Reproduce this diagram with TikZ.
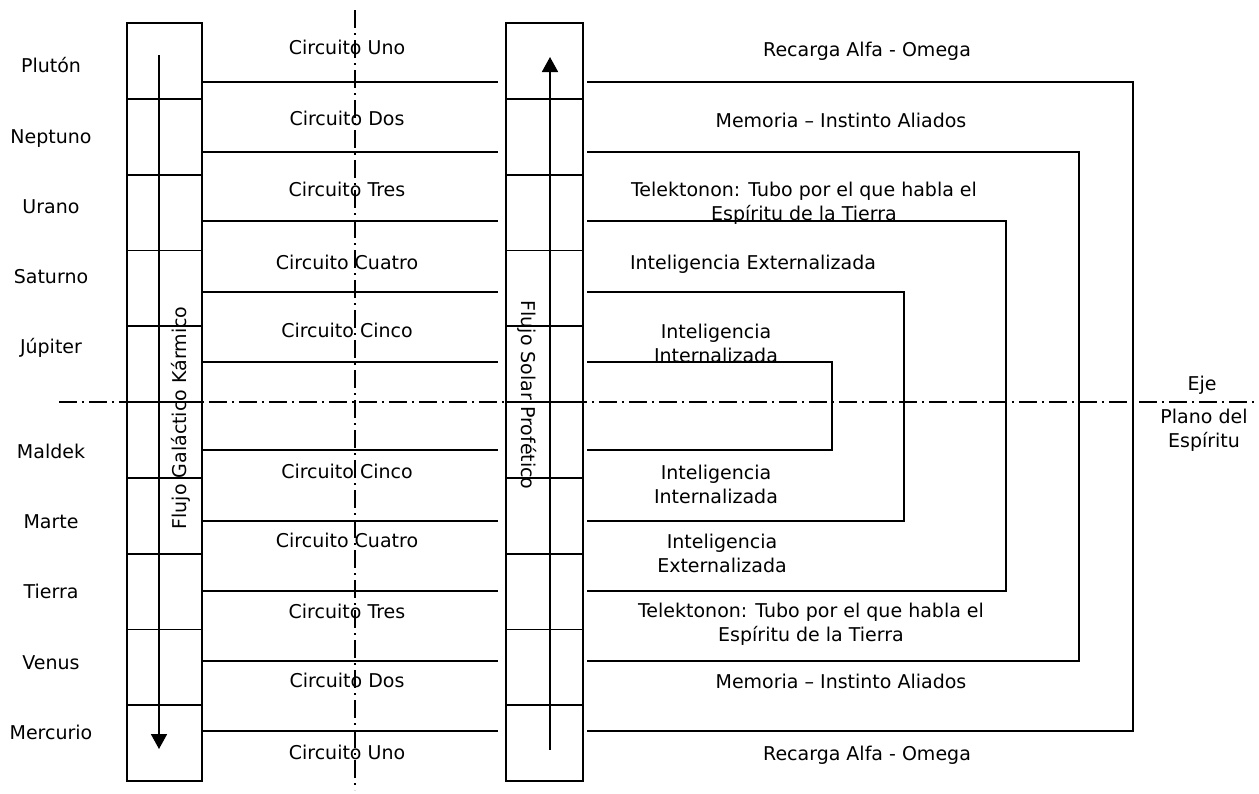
\documentclass[tikz,border=0pt]{standalone}
\usepackage{fontspec}
\setmainfont{DejaVu Sans}
\usetikzlibrary{arrows.meta}

\tikzset{
  linea/.style={line width=0.9pt},
  eje/.style={line width=0.8pt, dash pattern=on 9pt off 2.5pt on 1pt off 2.5pt},
  flecha/.style={linea, -{Triangle[width=8pt,length=7.5pt]}},
  lbl/.style={font=\fontsize{9.5}{12}\selectfont, inner sep=0pt, text height=7pt, text depth=0pt},
  par/.style={font=\fontsize{9.5}{12}\selectfont, inner sep=0pt, align=center}
}

\begin{document}
\begin{tikzpicture}[x=0.5pt,y=-0.5pt]
  \useasboundingbox (0,0) rectangle (1259,793);

  \draw[linea] (127,23) rectangle (202,781);
  \draw[linea] (506,23) rectangle (583,781);
  \foreach \k in {1,...,9} {
    \draw[linea] (127,{23+\k*75.8}) -- (202,{23+\k*75.8});
    \draw[linea] (506,{23+\k*75.8}) -- (583,{23+\k*75.8});
  }

  \foreach \ya/\yb/\xb in {82/731/1133, 152/661/1079, 221/591/1006, 292/521/904, 362/450/832} {
    \draw[linea] (202,\ya) -- (498,\ya);
    \draw[linea] (202,\yb) -- (498,\yb);
    \draw[linea] (587,\ya) -| (\xb,\yb) -- (587,\yb);
  }

  \draw[flecha] (159,55) -- (159,749);
  \draw[flecha] (550,750) -- (550,57);

  \draw[eje] (355,10) -- (355,790);
  \draw[eje] (59,402) -- (1259,402);

  \foreach \nombre/\yy [count=\i] in {Plutón/65, Neptuno/136, Urano/206, Saturno/276, Júpiter/346,
      Maldek/451, Marte/521, Tierra/591, Venus/662, Mercurio/732}
    \node[lbl] (planeta\i) at (51,\yy) {\nombre};

  \foreach \nombre/\yy [count=\i] in {Uno/47, Dos/118, Tres/189, Cuatro/262, Cinco/330,
      Cinco/471, Cuatro/540, Tres/611, Dos/680, Uno/752}
    \node[lbl] (circuito\i) at (347,\yy) {Circuito \nombre};

  \node[lbl] (recarga1) at (867,49) {Recarga Alfa - Omega};
  \node[lbl] (memoria1) at (841,120) {Memoria – Instinto Aliados};
  \node[par] (tele1) at (804,203) {Telektonon: Tubo por el que habla el\\Espíritu de la Tierra};
  \node[lbl] (externa1) at (753,262) {Inteligencia Externalizada};
  \node[par] (interna1) at (716,343) {Inteligencia\\Internalizada};
  \node[par] (interna2) at (716,484) {Inteligencia\\Internalizada};
  \node[par] (externa2) at (722,553) {Inteligencia\\Externalizada};
  \node[par] (tele2) at (811,624) {Telektonon: Tubo por el que habla el\\Espíritu de la Tierra};
  \node[lbl] (memoria2) at (841,681) {Memoria – Instinto Aliados};
  \node[lbl] (recarga2) at (867,753) {Recarga Alfa - Omega};

  \node[lbl] (eje) at (1202,383) {Eje};
  \node[par] (plano) at (1204,430) {Plano del\\Espíritu};

  \node[lbl, rotate=90] (galactico) at (179,418) {Flujo Galáctico Kármico};
  \node[lbl, rotate=-90] (solar) at (528,395) {Flujo Solar Profético};
\end{tikzpicture}
\end{document}
